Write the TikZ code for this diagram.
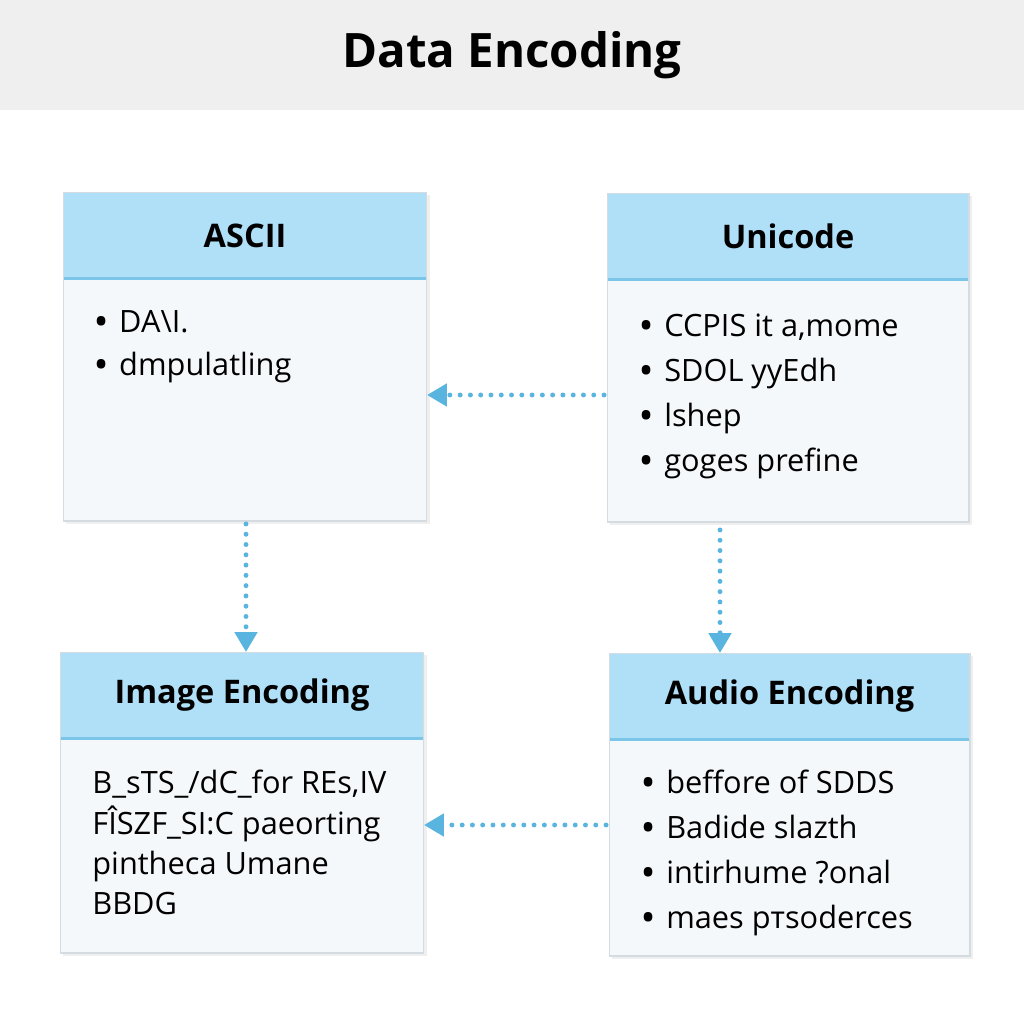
\documentclass[tikz,border=0pt]{standalone}
\usepackage{fontspec}
\setmainfont{Open Sans}
\usepackage{tikz}
\usetikzlibrary{arrows.meta,shapes,positioning,shadows}
\definecolor{encgray}{RGB}{239,239,239}
\definecolor{encblue}{RGB}{90,180,224}
\definecolor{enchead}{RGB}{176,224,248}
\definecolor{encline}{RGB}{122,197,232}
\definecolor{encbody}{RGB}{245,248,251}
\definecolor{encedge}{RGB}{212,220,226}
\newcommand{\encitem}{{\bfseries\textbullet}\hspace{0.4em}}
\tikzstyle{card} = [draw=encedge, fill=encbody, line width=0.6pt, minimum width=7.28cm, inner sep=0pt, outer sep=0pt, drop shadow={opacity=0.12, shadow xshift=1.5pt, shadow yshift=-1.5pt}]
\tikzstyle{cardhead} = [fill=enchead, minimum width=7.24cm, minimum height=1.72cm, inner sep=0pt, outer sep=0pt, anchor=north, font=\fontsize{18.5}{22}\selectfont\bfseries]
\tikzstyle{headline} = [encline, line width=1.7pt]
\tikzstyle{cardtext} = [anchor=north west, inner sep=0pt, align=left, font=\fontsize{17.5}{25.5}\selectfont]
\tikzstyle{flow} = [line width=2.8pt, encblue, dash pattern=on 0pt off 5.85pt, line cap=round, -{Triangle[length=0.4cm,width=0.44cm]}]

\begin{document}
\begin{tikzpicture}[x=0.02cm, y=-0.02cm]
\useasboundingbox (0,0) rectangle (1024,1024);
\fill[white] (0,0) rectangle (1024,1024);

% Title bar
\node[fill=encgray, minimum width=20.48cm, minimum height=2.2cm, inner sep=0pt, anchor=north west] (bar) at (0,0) {};
\node[font=\fontsize{27}{32}\selectfont\bfseries] (title) at (512,55) {Data Encoding};

% ASCII box
\node[card, minimum height=6.58cm] (ascii) at (245,356.5) {};
\node[cardhead] (asciihead) at ([shift={(0,0.5)}]ascii.north) {ASCII};
\draw[headline] (asciihead.south west) -- (asciihead.south east);
\node[cardtext, font=\fontsize{17.5}{24.5}\selectfont] (asciitext) at ([shift={(32,118)}]ascii.north west)
  {\encitem DA\textbackslash I.\\ \encitem dmpulatling};

% Unicode box
\node[card, minimum width=7.24cm, minimum height=6.58cm] (unicode) at (788,357.5) {};
\node[cardhead, minimum width=7.2cm] (unicodehead) at ([shift={(0,0.5)}]unicode.north) {Unicode};
\draw[headline] (unicodehead.south west) -- (unicodehead.south east);
\node[cardtext] (unicodetext) at ([shift={(33,121)}]unicode.north west)
  {\encitem CCPIS it a,mome\\ \encitem SDOL yyEdh\\ \encitem lshep\\ \encitem goges prefine};

% Image Encoding box
\node[card, minimum height=6.02cm] (image) at (242,802.5) {};
\node[cardhead] (imagehead) at ([shift={(0,0.5)}]image.north) {Image Encoding};
\draw[headline] (imagehead.south west) -- (imagehead.south east);
\node[cardtext, font=\fontsize{17.5}{22.9}\selectfont] (imagetext) at ([shift={(32,118)}]image.north west)
  {B\_sTS\_/dC\_for REs,IV\\ FÎSZF\_SI:C paeorting\\ pintheca Umane\\ BBDG};

% Audio Encoding box
\node[card, minimum width=7.22cm, minimum height=6.06cm] (audio) at (789.5,804.5) {};
\node[cardhead, minimum width=7.18cm] (audiohead) at ([shift={(0,0.5)}]audio.north) {Audio Encoding};
\draw[headline] (audiohead.south west) -- (audiohead.south east);
\node[cardtext] (audiotext) at ([shift={(33,117)}]audio.north west)
  {\encitem beffore of SDDS\\ \encitem Badide slazth\\ \encitem intirhume ?onal\\ \encitem maes pтsoderces};

% Connectors
\coordinate (uni-left) at ([shift={(-3,37.5)}]unicode.west);
\coordinate (ascii-down) at ([shift={(1,3)}]ascii.south);
\coordinate (uni-down) at ([shift={(-68,8)}]unicode.south);
\coordinate (audio-left) at ([shift={(-3,20.5)}]audio.west);
\draw[flow] (uni-left) -- (uni-left -| ascii.east);
\draw[flow] (ascii-down) -- (ascii-down |- image.north);
\draw[flow] (uni-down) -- (uni-down |- audio.north);
\draw[flow] (audio-left) -- (audio-left -| image.east);
\end{tikzpicture}
\end{document}
